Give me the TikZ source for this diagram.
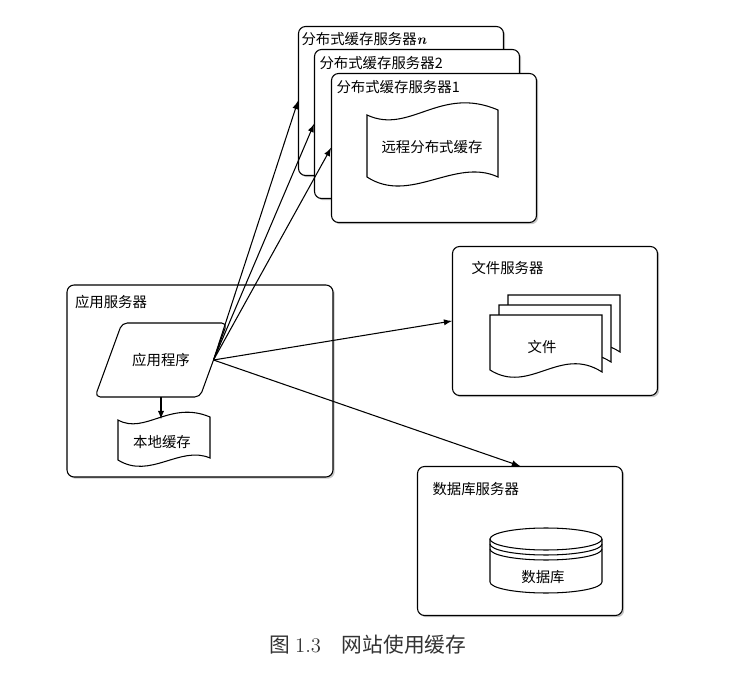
\documentclass[tikz,border=0pt]{standalone}
\usepackage{fontspec}
\newfontfamily\cjk{Noto Sans CJK SC}
\usetikzlibrary{arrows,positioning,shadows}

\begin{document}
\begin{tikzpicture}[x=0.02cm, y=-0.02cm, line width=0.6pt,
    font=\cjk\fontsize{8.2}{10}\selectfont]
    \tikzset{srvbox/.style={draw, fill=white, rounded corners=4pt,
             minimum width=4.1cm, minimum height=2.98cm,
             drop shadow={shadow xshift=1pt, shadow yshift=-1pt, opacity=.45}},
             boxtitle/.style={inner sep=0pt},
             page/.style={draw, fill=white},
             conn/.style={->, >=latex}}
    \useasboundingbox (0,0) rectangle (731,679);
    % distributed cache servers
    \node[srvbox] (srvn) at (401,101) {};
    \node[boxtitle, below right=0.12cm and 0.06cm of srvn.north west]
      {分布式缓存服务器{\rmfamily\bfseries\itshape n}};
    \node[srvbox] (srv2) at (417,124) {};
    \node[boxtitle, below right=0.14cm and 0.1cm of srv2.north west] {分布式缓存服务器2};
    \node[srvbox] (srv1) at (434,148) {};
    \node[boxtitle, below right=0.14cm and 0.1cm of srv1.north west] {分布式缓存服务器1};
    \draw[page] (367,115) .. controls (410,135) and (440,85) .. (498,110) -- (498,177)
      .. controls (455,157) and (410,205) .. (367,177) -- cycle;
    \node (rcache) at (432,147) {远程分布式缓存};
    % application server
    \node[srvbox, minimum width=5.32cm, minimum height=3.84cm] (asrv) at (200,381) {};
    \node[boxtitle, below right=0.2cm and 0.16cm of asrv.north west] {应用服务器};
    \draw[page, rounded corners=3pt] (122,323) -- (227,323) -- (200,397) -- (95,397) -- cycle;
    \node (app) at (161,360) {应用程序};
    \coordinate (appout) at (213.5,360);
    \coordinate (appbot) at (161,397);
    \draw[page] (118,420) .. controls (145,435) and (170,400) .. (210,417) -- (210,458)
      .. controls (180,445) and (150,480) .. (118,460) -- cycle;
    \node (lcache) at (162,442) {本地缓存};
    \coordinate (ltop) at (161,419);
    % file server
    \node[srvbox] (fsrv) at (555,321) {};
    \node[boxtitle, below right=0.3cm and 0.38cm of fsrv.north west] {文件服务器};
    \foreach \dx/\dy in {18/-20, 9/-10, 0/0}
      \draw[page, shift={(\dx,\dy)}] (490,315) -- (602,315) -- (602,372)
        .. controls (560,345) and (530,395) .. (490,370) -- cycle;
    \node (file) at (542,347) {文件};
    % database server
    \node[srvbox] (dbsrv) at (520,541) {};
    \node[boxtitle, below right=0.32cm and 0.3cm of dbsrv.north west] {数据库服务器};
    \draw[page] (490,539) -- (490,582)
      arc[start angle=180, end angle=360, x radius=1.12cm, y radius=0.22cm] -- (602,539)
      arc[start angle=0, end angle=180, x radius=1.12cm, y radius=0.22cm] -- cycle;
    \foreach \r in {0,5,10}
      \draw (490,539+\r) arc[start angle=180, end angle=360, x radius=1.12cm, y radius=0.22cm];
    \node (db) at (543,577) {数据库};
    % connectors
    \draw[conn] (appbot) -- (ltop);
    \draw[conn] (appout) -- (srvn.west);
    \draw[conn] (appout) -- (srv2.west);
    \draw[conn] (appout) -- (srv1.west);
    \draw[conn] (appout) -- (fsrv.west);
    \draw[conn] (appout) -- (dbsrv.north);
    \node[font=\cjk\fontsize{11.8}{14}\selectfont, text=black!80] (cap) at (368,645)
      {图 {\rmfamily 1.3}\quad 网站使用缓存};
\end{tikzpicture}
\end{document}
